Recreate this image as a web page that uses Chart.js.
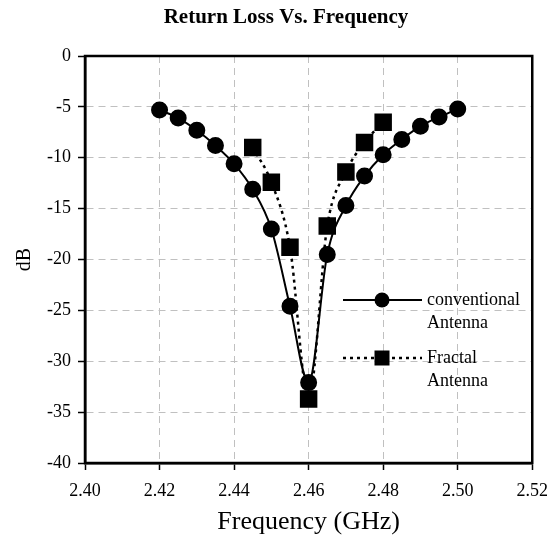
<!DOCTYPE html>
<html>
<head>
<meta charset="utf-8">
<script src="https://cdn.jsdelivr.net/npm/chart.js@4"></script>
<style>
  html, body { margin: 0; padding: 0; background: #fff; }
  #wrap { width: 558px; height: 541px; }
</style>
</head>
<body>
<div id="wrap"><canvas id="rlChart" width="558" height="541"></canvas></div>
<script>
const freqConventional = [2.420, 2.425, 2.430, 2.435, 2.440, 2.445, 2.450, 2.455, 2.460,
                          2.465, 2.470, 2.475, 2.480, 2.485, 2.490, 2.495, 2.500];
const lossConventional = [-5.3, -6.1, -7.3, -8.8, -10.6, -13.1, -17.0, -24.6, -32.1,
                          -19.5, -14.7, -11.8, -9.7, -8.2, -6.9, -6.0, -5.2];
const freqFractal = [2.445, 2.450, 2.455, 2.460, 2.465, 2.470, 2.475, 2.480];
const lossFractal = [-9.0, -12.4, -18.8, -33.7, -16.7, -11.4, -8.5, -6.5];
const legendLines = [['conventional', 'Antenna'], ['Fractal', 'Antenna']];
const chartTitle = 'Return Loss Vs. Frequency';

const serif = '"Liberation Serif", "Times New Roman", serif';

const toPoints = (xs, ys) => xs.map((x, i) => ({ x: x, y: ys[i] }));

// title, box round the plot and the legend inside it
const framePlugin = {
    id: 'frame',
    afterDraw(chart) {
        const ctx = chart.ctx;
        const a = chart.chartArea;
        ctx.save();

        ctx.fillStyle = '#000';
        ctx.font = 'bold 21px ' + serif;
        ctx.textAlign = 'center';
        ctx.textBaseline = 'middle';
        ctx.fillText(chartTitle, a.left + 201, 18);

        ctx.strokeStyle = '#000';
        ctx.lineWidth = 2.5;
        ctx.strokeRect(a.left, a.top, a.right - a.left, a.bottom - a.top);

        const x0 = a.left + 258, x1 = a.left + 337, mx = a.left + 297;
        const rows = [a.top + 244, a.top + 302];
        chart.data.datasets.forEach((ds, i) => {
            const y = rows[i];
            ctx.beginPath();
            ctx.strokeStyle = '#000';
            ctx.lineWidth = ds.borderWidth;
            ctx.setLineDash(ds.borderDash || []);
            ctx.moveTo(x0, y);
            ctx.lineTo(x1, y);
            ctx.stroke();
            ctx.setLineDash([]);
            ctx.fillStyle = '#000';
            if (ds.pointStyle === 'rect') {
                ctx.fillRect(mx - 7.5, y - 7.5, 15, 15);
            } else {
                ctx.beginPath();
                ctx.arc(mx, y, 7.5, 0, Math.PI * 2);
                ctx.fill();
            }
            ctx.font = '18px ' + serif;
            ctx.textBaseline = 'middle';
            ctx.textAlign = 'left';
            legendLines[i].forEach((t, j) => ctx.fillText(t, x1 + 5, y + j * 23));
        });
        ctx.restore();
    }
};

const ctx = document.getElementById('rlChart').getContext('2d');
new Chart(ctx, {
    type: 'line',
    data: {
        datasets: [{
            label: 'conventional Antenna',
            data: toPoints(freqConventional, lossConventional),
            borderColor: '#000',
            backgroundColor: '#000',
            borderWidth: 2,
            pointStyle: 'circle',
            pointRadius: 7.5,
            cubicInterpolationMode: 'monotone',
        }, {
            label: 'Fractal Antenna',
            data: toPoints(freqFractal, lossFractal),
            borderColor: '#000',
            backgroundColor: '#000',
            borderWidth: 2.5,
            borderDash: [3, 4],
            pointStyle: 'rect',
            pointRadius: 10.6,
            cubicInterpolationMode: 'monotone',
        }]
    },
    options: {
        responsive: false,
        animation: false,
        layout: { padding: { left: 0, right: 22, top: 56, bottom: 0 } },
        scales: {
            x: {
                type: 'linear',
                min: 2.40,
                max: 2.52,
                afterFit: s => { s.height = 78; },
                ticks: {
                    stepSize: 0.02,
                    padding: 10,
                    color: '#000',
                    font: { family: serif, size: 18 },
                    callback: v => v.toFixed(2),
                },
                grid: { color: '#c0c0c0', tickColor: '#000', tickLength: 7, tickWidth: 1.5 },
                border: { color: '#000', width: 2.5, dash: [7, 5] },
                title: {
                    display: true,
                    text: 'Frequency (GHz)',
                    color: '#000',
                    font: { family: serif, size: 26 },
                    padding: { top: 0, bottom: 3 },
                }
            },
            y: {
                min: -40,
                max: 0,
                afterFit: s => { s.width = 85; },
                ticks: {
                    stepSize: 5,
                    padding: 7,
                    color: '#000',
                    font: { family: serif, size: 18 },
                },
                grid: { color: '#c0c0c0', tickColor: '#000', tickLength: 7, tickWidth: 1.5 },
                border: { color: '#000', width: 2.5, dash: [7, 5] },
                title: {
                    display: true,
                    text: 'dB',
                    color: '#000',
                    font: { family: serif, size: 20 },
                    padding: { top: 13, bottom: 0 },
                }
            }
        },
        plugins: {
            legend: { display: false },
            tooltip: { enabled: false },
            title: { display: false },
        }
    },
    plugins: [framePlugin]
});
</script>
</body>
</html>
